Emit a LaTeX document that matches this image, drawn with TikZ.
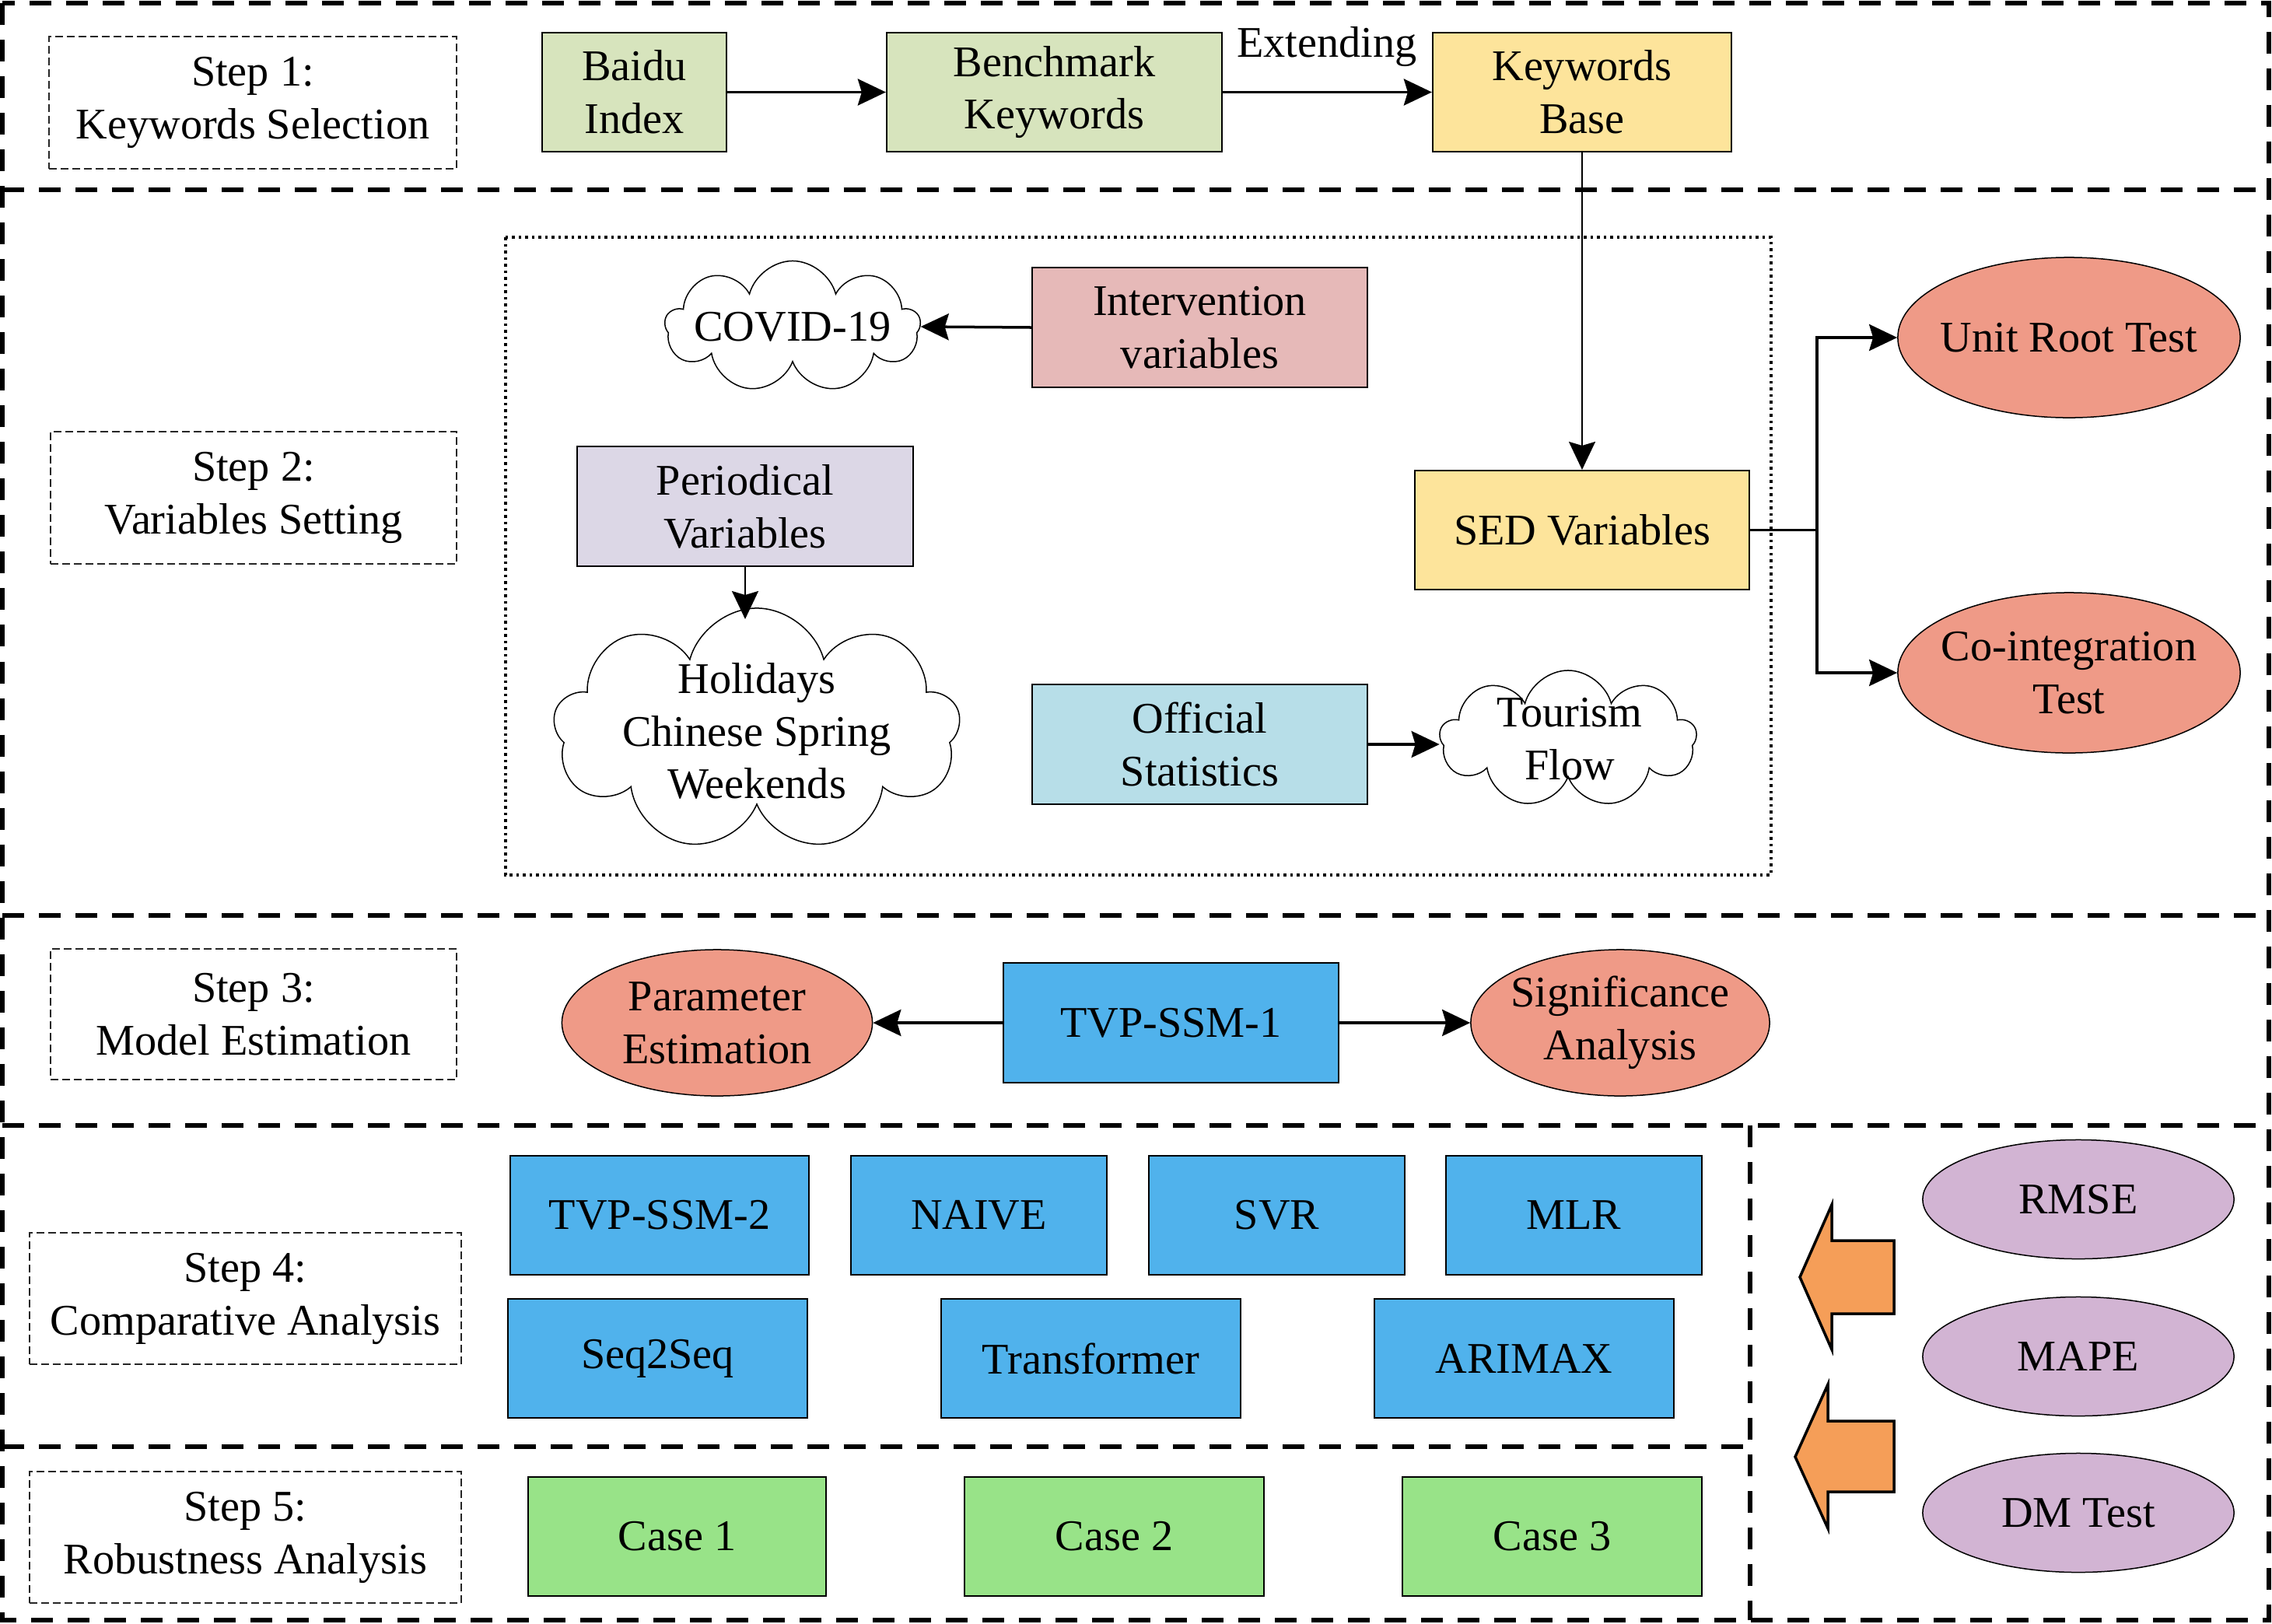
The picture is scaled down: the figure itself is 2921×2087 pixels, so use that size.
\documentclass[tikz,border=0pt]{standalone}
\usepackage{fontspec}
\setmainfont{Liberation Serif}
\usetikzlibrary{shapes.geometric,shapes.symbols,arrows.meta}
\definecolor{cgreen}{HTML}{D7E4BD}
\definecolor{cyellow}{HTML}{FDE49B}
\definecolor{cpink}{HTML}{E6B9B8}
\definecolor{clav}{HTML}{DCD7E6}
\definecolor{caqua}{HTML}{B7DEE8}
\definecolor{csalmon}{HTML}{EF9A87}
\definecolor{cblue}{HTML}{50B2EC}
\definecolor{ccase}{HTML}{98E388}
\definecolor{cpurple}{HTML}{D2B4D3}
\definecolor{corange}{HTML}{F59E58}
\begin{document}
\begin{tikzpicture}[x=0.01cm,y=-0.01cm,
  font=\fontsize{16}{19.3}\selectfont,
  box/.style={draw=black, line width=0.02cm, inner sep=0pt, align=center},
  ell/.style={ellipse, draw=black, line width=0.015cm, inner sep=0pt},
  cld/.style={cloud, draw=black, line width=0.015cm, cloud puffs=9, inner sep=0pt, fill=white},
  txt/.style={align=center, inner sep=0pt},
  stepbox/.style={draw=black!85, line width=0.015cm, dash pattern=on 0.1cm off 0.05cm, align=center, inner sep=0pt},
  sep/.style={line width=0.055cm, dash pattern=on 0.28cm off 0.19cm},
  arr/.style={line width=0.035cm, -{Stealth[length=0.36cm,width=0.34cm,inset=0.05cm]}},
  thinarr/.style={line width=0.022cm, -{Stealth[length=0.36cm,width=0.34cm,inset=0.05cm]}},
  blockarrow/.style={fill=corange, draw=black, line width=0.035cm, line join=miter}
]
\fill[white] (0,0) rectangle (2921,2087);
\useasboundingbox (0,0) rectangle (2921,2087);

% frame and separators
\draw[sep] (3,4) rectangle (2917,2083);
\draw[sep] (3,244) -- (2917,244);
\draw[sep] (3,1177) -- (2917,1177);
\draw[sep] (3,1447) -- (2917,1447);
\draw[sep] (3,1860) -- (2250,1860);
\draw[sep] (2250,1447) -- (2250,2083);

% step labels
\node[stepbox, minimum width=5.24cm, minimum height=1.70cm] (s1) at (325,132) {Step 1:\\Keywords Selection};
\node[stepbox, minimum width=5.22cm, minimum height=1.70cm] (s2) at (326,640) {Step 2:\\Variables Setting};
\node[stepbox, minimum width=5.22cm, minimum height=1.68cm] (s3) at (326,1304) {Step 3:\\Model Estimation};
\node[stepbox, minimum width=5.55cm, minimum height=1.69cm] (s4) at (315.5,1669.5) {Step 4:\\Comparative Analysis};
\node[stepbox, minimum width=5.55cm, minimum height=1.69cm] (s5) at (315.5,1976.5) {Step 5:\\Robustness Analysis};

% step 1
\node[box, fill=cgreen, minimum width=2.37cm, minimum height=1.53cm] (baidu) at (815.5,118.5) {Baidu\\Index};
\node[box, fill=cgreen, minimum width=4.31cm, minimum height=1.53cm] (bench) at (1355.5,118.5) {Benchmark\\Keywords};
\node[box, fill=cyellow, minimum width=3.84cm, minimum height=1.53cm] (kb) at (2034,118.5) {Keywords\\Base};
\draw[arr] (baidu) -- (bench);
\draw[arr] (bench) -- (kb);
\node[txt] (ext) at (1706,60) {Extending};

% step 2
\draw[line width=0.032cm, dash pattern=on 0.035cm off 0.05cm] (650,305) rectangle (2277,1125);
\node[cld, aspect=1.94, minimum width=3.28cm, minimum height=1.69cm] (covid) at (1019,420) {};
\node[txt] (covidt) at (covid.center) {COVID-19};
\node[box, fill=cpink, minimum width=4.31cm, minimum height=1.54cm] (interv) at (1542.5,421) {Intervention\\variables};
\draw[arr] (interv.west) -- (covid.east);

\node[box, fill=clav, minimum width=4.32cm, minimum height=1.54cm] (period) at (958,651) {Periodical\\Variables};
\node[cld, aspect=1.68, minimum width=5.23cm, minimum height=3.12cm] (hol) at (973,938) {};
\node[txt] (holt) at (973,940) {Holidays\\Chinese Spring\\Weekends};
\coordinate (holtop) at (958,796);
\draw[thinarr] (period.south) -- (holtop);

\node[box, fill=caqua, minimum width=4.31cm, minimum height=1.54cm] (official) at (1542.5,957) {Official\\Statistics};
\node[cld, aspect=1.94, minimum width=3.30cm, minimum height=1.76cm] (tour) at (2016,950) {};
\node[txt] (tourt) at (2018,950) {Tourism\\Flow};
\draw[arr] (official.east) -- (official.east -| tour.west);

\node[box, fill=cyellow, minimum width=4.30cm, minimum height=1.53cm] (sed) at (2034,681.5) {SED Variables};
\draw[thinarr] (kb.south) -- (kb.south |- sed.north);

\node[ell, fill=csalmon, minimum width=4.40cm, minimum height=2.06cm] (unit) at (2660,434) {};
\node[txt] (unitt) at (unit.center) {Unit Root Test};
\node[ell, fill=csalmon, minimum width=4.40cm, minimum height=2.06cm] (coint) at (2660,865) {};
\node[txt] (cointt) at (coint.center) {Co-integration\\Test};
\coordinate (split) at (2336,681.5);
\draw[line width=0.035cm] (sed.east) -- (split);
\draw[arr] (split) |- (unit.west);
\draw[arr] (split) |- (coint.west);

% step 3
\node[ell, fill=csalmon, minimum width=3.99cm, minimum height=1.88cm] (param) at (922,1315) {};
\node[txt] (paramt) at (param.center) {Parameter\\Estimation};
\node[box, fill=cblue, minimum width=4.31cm, minimum height=1.54cm] (tvp1) at (1505.5,1315) {TVP-SSM-1};
\node[ell, fill=csalmon, minimum width=3.84cm, minimum height=1.88cm] (signif) at (2083,1315) {};
\node[txt] (signift) at (signif.center) {Significance\\Analysis};
\draw[arr] (tvp1.west) -- (param.east);
\draw[arr] (tvp1.east) -- (signif.west);

% step 4
\node[box, fill=cblue, minimum width=3.84cm, minimum height=1.53cm] (tvp2) at (848,1562.5) {TVP-SSM-2};
\node[box, fill=cblue, minimum width=3.29cm, minimum height=1.53cm] (naive) at (1258.5,1562.5) {NAIVE};
\node[box, fill=cblue, minimum width=3.29cm, minimum height=1.53cm] (svr) at (1641.5,1562.5) {SVR};
\node[box, fill=cblue, minimum width=3.29cm, minimum height=1.53cm] (mlr) at (2023.5,1562.5) {MLR};
\node[box, fill=cblue, minimum width=3.85cm, minimum height=1.53cm] (seq) at (845.5,1746.5) {Seq2Seq};
\node[box, fill=cblue, minimum width=3.85cm, minimum height=1.53cm] (trans) at (1402.5,1746.5) {Transformer};
\node[box, fill=cblue, minimum width=3.85cm, minimum height=1.53cm] (arimax) at (1959.5,1746.5) {ARIMAX};

% step 5
\node[box, fill=ccase, minimum width=3.83cm, minimum height=1.53cm] (case1) at (870.5,1975.5) {Case 1};
\node[box, fill=ccase, minimum width=3.85cm, minimum height=1.53cm] (case2) at (1432.5,1975.5) {Case 2};
\node[box, fill=ccase, minimum width=3.85cm, minimum height=1.53cm] (case3) at (1995.5,1975.5) {Case 3};

% metrics
\node[ell, fill=cpurple, minimum width=4.00cm, minimum height=1.53cm] (rmse) at (2672,1542) {};
\node[txt] (rmset) at (rmse.center) {RMSE};
\node[ell, fill=cpurple, minimum width=4.00cm, minimum height=1.53cm] (mape) at (2672,1744) {};
\node[txt] (mapet) at (mape.center) {MAPE};
\node[ell, fill=cpurple, minimum width=4.00cm, minimum height=1.53cm] (dm) at (2672,1945) {};
\node[txt] (dmt) at (dm.center) {DM Test};

\draw[blockarrow] (2314,1642) -- (2355,1549) -- (2355,1595) -- (2435,1595) -- (2435,1689) -- (2355,1689) -- (2355,1735) -- cycle;
\draw[blockarrow] (2308,1873) -- (2350,1780) -- (2350,1827) -- (2435,1827) -- (2435,1918) -- (2350,1918) -- (2350,1965) -- cycle;
\end{tikzpicture}
\end{document}
